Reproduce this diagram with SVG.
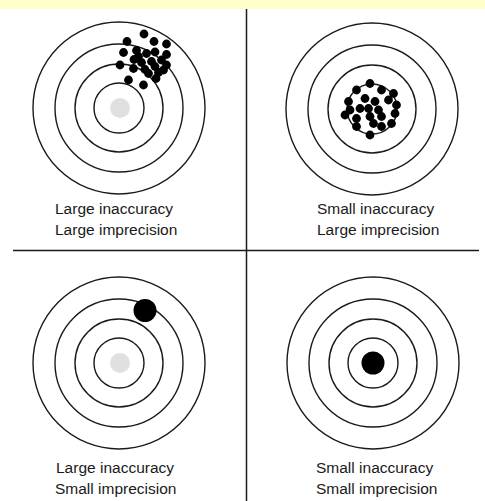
<svg xmlns="http://www.w3.org/2000/svg" width="485" height="501" viewBox="0 0 485 501">
<style>
.ring{fill:none;stroke:#1a1a1a;stroke-width:1.4}
.lbl{font-family:"Liberation Sans",Arial,sans-serif;font-size:15.5px;fill:#1a1a1a}
.shot{fill:#000}
.bull{fill:#e0e0e0}
.div{stroke:#1a1a1a;stroke-width:1.5}
</style>
<defs>
<g id="target">
<circle class="ring" r="25"/>
<circle class="ring" r="44"/>
<circle class="ring" r="64"/>
<circle class="ring" r="86"/>
</g>
</defs>
<rect x="0" y="0" width="485" height="9" fill="#ffffcc"/>
<g id="dividers">
<line class="div" x1="246.5" y1="9" x2="246.5" y2="501"/>
<line class="div" x1="13" y1="250.5" x2="479" y2="250.5"/>
</g>
<g id="top-left">
<use href="#target" x="119" y="108"/>
<circle class="bull" cx="120" cy="108" r="10"/>
<g class="shot">
<circle cx="144" cy="34" r="4.4"/><circle cx="127" cy="41.5" r="4.4"/><circle cx="154" cy="41.5" r="4.4"/><circle cx="166.5" cy="44" r="4.4"/>
<circle cx="123.5" cy="52.5" r="4.4"/><circle cx="136.5" cy="50.5" r="4.4"/><circle cx="146.5" cy="53.5" r="4.4"/><circle cx="155" cy="52" r="4.4"/>
<circle cx="166.5" cy="54.5" r="4.4"/><circle cx="134" cy="59.5" r="4.4"/><circle cx="141.5" cy="62.5" r="4.4"/><circle cx="151.5" cy="61.5" r="4.4"/>
<circle cx="161.5" cy="60" r="4.4"/><circle cx="120" cy="65" r="4.4"/><circle cx="133.5" cy="68.5" r="4.4"/><circle cx="145" cy="69.5" r="4.4"/>
<circle cx="155" cy="66.5" r="4.4"/><circle cx="166.5" cy="65" r="4.4"/><circle cx="158.5" cy="72.5" r="4.4"/><circle cx="148.5" cy="73.5" r="4.4"/>
<circle cx="128.5" cy="80" r="4.4"/><circle cx="143.5" cy="85" r="4.4"/><circle cx="156" cy="78.5" r="4.4"/><circle cx="138.5" cy="56.5" r="4.4"/>
<circle cx="163.5" cy="70" r="4.4"/>
</g>
<text class="lbl" x="55" y="214">Large inaccuracy</text>
<text class="lbl" x="55" y="234.5">Large imprecision</text>
</g>
<g id="top-right">
<use href="#target" x="372" y="109"/>
<g class="shot">
<circle cx="370" cy="83.5" r="4.4"/><circle cx="356.5" cy="90" r="4.4"/><circle cx="381.5" cy="90" r="4.4"/><circle cx="393.5" cy="93.5" r="4.4"/>
<circle cx="348.5" cy="101.5" r="4.4"/><circle cx="365" cy="98.5" r="4.4"/><circle cx="375" cy="101.5" r="4.4"/><circle cx="388.5" cy="100" r="4.4"/>
<circle cx="396.5" cy="105" r="4.4"/><circle cx="345" cy="115" r="4.4"/><circle cx="360" cy="108.5" r="4.4"/><circle cx="368.5" cy="108.5" r="4.4"/>
<circle cx="378.5" cy="110" r="4.4"/><circle cx="395" cy="113.5" r="4.4"/><circle cx="356.5" cy="118.5" r="4.4"/><circle cx="370" cy="116.5" r="4.4"/>
<circle cx="381.5" cy="116.5" r="4.4"/><circle cx="391.5" cy="123.5" r="4.4"/><circle cx="356.5" cy="126.5" r="4.4"/><circle cx="370" cy="135" r="4.4"/>
<circle cx="381.5" cy="126.5" r="4.4"/><circle cx="350" cy="110" r="4.4"/><circle cx="373.5" cy="123.5" r="4.4"/>
</g>
<text class="lbl" x="317" y="214">Small inaccuracy</text>
<text class="lbl" x="317" y="234.5">Large imprecision</text>
</g>
<g id="bottom-left">
<use href="#target" x="119" y="363"/>
<circle class="bull" cx="120" cy="363" r="10"/>
<circle class="shot" cx="145" cy="310.5" r="11.5"/>
<text class="lbl" x="56" y="472.5">Large inaccuracy</text>
<text class="lbl" x="55" y="493.5">Small imprecision</text>
</g>
<g id="bottom-right">
<use href="#target" x="373" y="363"/>
<circle class="shot" cx="373" cy="363" r="11.5"/>
<text class="lbl" x="316" y="472.5">Small inaccuracy</text>
<text class="lbl" x="316" y="493.5">Small imprecision</text>
</g>
</svg>
